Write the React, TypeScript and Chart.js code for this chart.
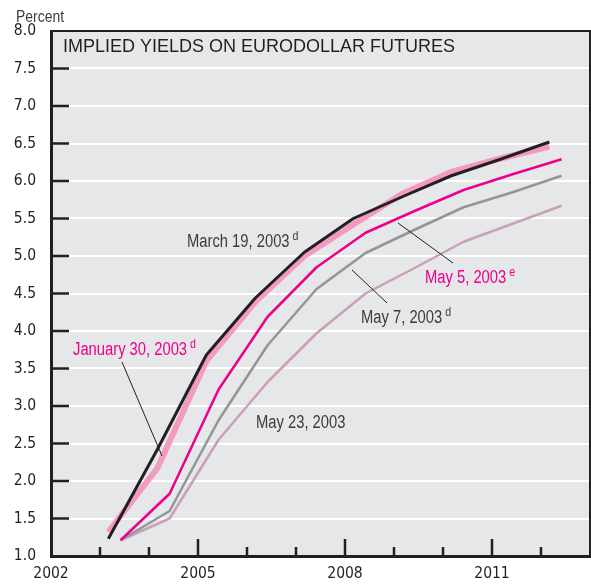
import React, { useEffect, useRef } from "react";
import { Chart, registerables } from "chart.js";

Chart.register(...registerables);

// ---- data ----
const yearsEarly = [2003.17, 2004.17, 2005.17, 2006.17, 2007.17, 2008.17, 2009.17, 2010.17, 2011.17, 2012.17];
const yearsLate = [2003.42, 2004.42, 2005.42, 2006.42, 2007.42, 2008.42, 2009.42, 2010.42, 2011.42, 2012.42];
const march19 = [1.23, 2.42, 3.68, 4.44, 5.05, 5.5, 5.79, 6.07, 6.29, 6.52];
const jan30 = [1.32, 2.17, 3.6, 4.39, 5.0, 5.42, 5.83, 6.12, 6.3, 6.46];
const may5 = [1.21, 1.83, 3.22, 4.19, 4.85, 5.31, 5.6, 5.88, 6.09, 6.29];
const may7 = [1.21, 1.6, 2.81, 3.81, 4.56, 5.04, 5.35, 5.65, 5.85, 6.07];
const may23 = [1.21, 1.5, 2.55, 3.32, 3.97, 4.5, 4.84, 5.19, 5.43, 5.67];
const xLabelYears = [2002, 2005, 2008, 2011];
const majorTickYears = [2005, 2008, 2011];
const minorTickYears = [2003, 2004, 2006, 2007, 2009, 2010, 2012];
const yTickValues = [1.5, 2, 2.5, 3, 3.5, 4, 4.5, 5, 5.5, 6, 6.5, 7, 7.5];

const CONDENSED = "'DejaVu Sans Condensed', 'Liberation Sans', sans-serif";
const REGULAR = "'Liberation Sans', Arial, sans-serif";
const DARK = "#231f20";
const TEXT = "#3c3c3e";
const MAGENTA = "#ec008c";
const NARROW_SCALE = 0.82;

const toPts = (xs: number[], ys: number[]) => xs.map((x, i) => ({ x, y: ys[i] }));

const decorPlugin = {
  id: "decor",
  beforeDraw(chart: any) {
    const { ctx, chartArea: a } = chart;
    ctx.save();
    ctx.fillStyle = "#e6e7e8";
    ctx.fillRect(a.left, a.top, a.right - a.left, a.bottom - a.top);
    ctx.restore();
  },
  afterDatasetsDraw(chart: any) {
    const { ctx, chartArea: a, scales } = chart;
    const xs = scales.x;
    const ys = scales.y;
    ctx.save();
    // top and right border
    ctx.strokeStyle = DARK;
    ctx.lineWidth = 2;
    ctx.beginPath();
    ctx.moveTo(a.left, a.top);
    ctx.lineTo(a.right, a.top);
    ctx.lineTo(a.right, a.bottom);
    ctx.stroke();
    // y ticks inside
    ctx.lineWidth = 2.5;
    yTickValues.forEach((v) => {
      const y = ys.getPixelForValue(v);
      ctx.beginPath();
      ctx.moveTo(a.left, y);
      ctx.lineTo(a.left + 18, y);
      ctx.stroke();
    });
    // x ticks inside
    majorTickYears.forEach((yr) => {
      const x = xs.getPixelForValue(yr);
      ctx.beginPath();
      ctx.moveTo(x, a.bottom);
      ctx.lineTo(x, a.bottom - 17);
      ctx.stroke();
    });
    minorTickYears.forEach((yr) => {
      const x = xs.getPixelForValue(yr);
      ctx.beginPath();
      ctx.moveTo(x, a.bottom);
      ctx.lineTo(x, a.bottom - 9);
      ctx.stroke();
    });
    // leader lines
    ctx.lineWidth = 1;
    ctx.strokeStyle = DARK;
    const lines = [
      [122, 362, 162, 456],
      [398, 223, 453, 263],
      [352, 270, 387, 303],
    ];
    lines.forEach(([x1, y1, x2, y2]) => {
      ctx.beginPath();
      ctx.moveTo(x1, y1);
      ctx.lineTo(x2, y2);
      ctx.stroke();
    });
    // texts
    ctx.textBaseline = "alphabetic";
    ctx.textAlign = "left";
    ctx.fillStyle = DARK;
    ctx.font = `18px ${REGULAR}`;
    ctx.fillText("IMPLIED YIELDS ON EURODOLLAR FUTURES", 63, 52);

    const narrow = (text: string, x: number, y: number, size: number) => {
      ctx.save();
      ctx.font = `${size}px ${REGULAR}`;
      ctx.translate(x, y);
      ctx.scale(NARROW_SCALE, 1);
      ctx.fillText(text, 0, 0);
      const w = ctx.measureText(text).width * NARROW_SCALE;
      ctx.restore();
      return w;
    };
    ctx.fillStyle = TEXT;
    narrow("Percent", 16, 22, 17);

    const label = (text: string, sup: string, x: number, y: number, color: string) => {
      ctx.fillStyle = color;
      const w = narrow(text, x, y, 18);
      if (sup) narrow(sup, x + w + 3, y - 7, 13);
    };
    label("January 30, 2003", "d", 73, 355, MAGENTA);
    label("March 19, 2003", "d", 187, 247, TEXT);
    label("May 5, 2003", "e", 425, 283, MAGENTA);
    label("May 7, 2003", "d", 361, 323, TEXT);
    label("May 23, 2003", "", 256, 428, TEXT);
    ctx.restore();
  },
};

export default function App() {
  const ref = useRef<HTMLCanvasElement | null>(null);
  useEffect(() => {
    if (!ref.current) return;
    const chart = new Chart(ref.current, {
      type: "line",
      data: {
        datasets: [
          { label: "March 19, 2003", data: toPts(yearsEarly, march19), borderColor: DARK, borderWidth: 3 },
          { label: "January 30, 2003", data: toPts(yearsEarly, jan30), borderColor: "#f49ac1", borderWidth: 6 },
          { label: "May 5, 2003", data: toPts(yearsLate, may5), borderColor: MAGENTA, borderWidth: 2.5 },
          { label: "May 7, 2003", data: toPts(yearsLate, may7), borderColor: "#939598", borderWidth: 2.5 },
          { label: "May 23, 2003", data: toPts(yearsLate, may23), borderColor: "#c8a2b4", borderWidth: 2.5 },
        ],
      },
      options: {
        animation: false,
        responsive: false,
        maintainAspectRatio: false,
        layout: { padding: { top: 31, right: 1, left: 0, bottom: 0 } },
        plugins: { legend: { display: false }, tooltip: { enabled: false }, title: { display: false } },
        elements: { point: { radius: 0 }, line: { tension: 0, borderJoinStyle: "round", borderCapStyle: "butt" } },
        scales: {
          x: {
            type: "linear",
            min: 2002,
            max: 2013,
            grid: { display: false, drawTicks: false },
            border: { display: true, color: DARK, width: 3 },
            ticks: {
              stepSize: 1,
              autoSkip: false,
              maxRotation: 0,
              padding: 9,
              color: DARK,
              font: { family: CONDENSED, size: 15.5 },
              callback: (v: any) => (xLabelYears.includes(Number(v)) ? String(v) : ""),
            },
            afterFit: (s: any) => {
              s.height = 30;
              s.paddingLeft = 0;
              s.paddingRight = 0;
            },
          },
          y: {
            type: "linear",
            min: 1,
            max: 8,
            grid: { color: "#ffffff", lineWidth: 2, drawTicks: false },
            border: { display: true, color: DARK, width: 3 },
            ticks: {
              stepSize: 0.5,
              autoSkip: false,
              padding: 15,
              color: DARK,
              font: { family: CONDENSED, size: 15.5 },
              callback: (v: any) => Number(v).toFixed(1),
            },
            afterFit: (s: any) => {
              s.width = 51;
              s.paddingTop = 0;
              s.paddingBottom = 0;
            },
          },
        },
      } as any,
      plugins: [decorPlugin],
    });
    return () => chart.destroy();
  }, []);
  return (
    <div style={{ position: "absolute", left: 0, top: 0, width: 591, height: 586 }}>
      <canvas ref={ref} width={591} height={586} style={{ width: 591, height: 586, display: "block" }} />
    </div>
  );
}
